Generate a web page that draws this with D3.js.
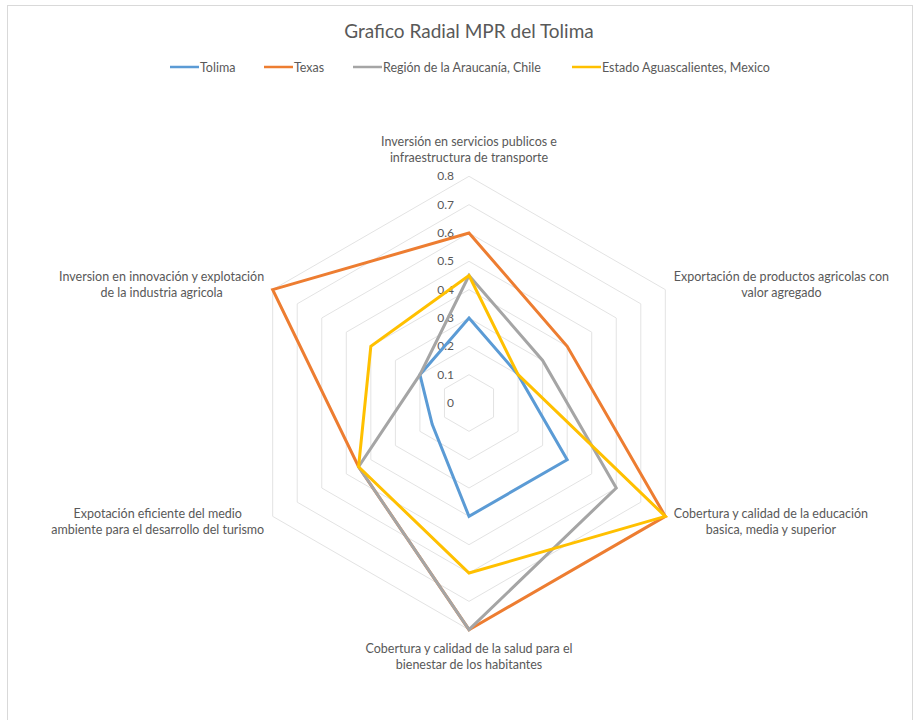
<!DOCTYPE html>
<html>
<head>
<meta charset="utf-8">
<script src="https://cdn.jsdelivr.net/npm/d3@7.9.0/dist/d3.min.js"></script>
<style>
  body { margin: 0; background: #fff; }
  svg text { font-family: Lato, "Open Sans", sans-serif; fill: #595959; }
</style>
</head>
<body>
<svg id="chart" width="917" height="720"></svg>
<script>
// axes of the radar, clockwise from the top
const categories = [
  ['Inversión en servicios publicos e', 'infraestructura de transporte'],
  ['Exportación de productos agricolas con', 'valor agregado'],
  ['Cobertura y calidad de la educación', 'basica, media y superior'],
  ['Cobertura y calidad de la salud para el', 'bienestar de los habitantes'],
  ['Expotación eficiente del medio', 'ambiente para el desarrollo del turismo'],
  ['Inversion en innovación y explotación', 'de la industria agricola']
];
const seriesNames = ['Tolima', 'Texas', 'Región de la Araucanía, Chile', 'Estado Aguascalientes, Mexico'];
const tolima = [0.3, 0.2, 0.4, 0.4, 0.15, 0.2];
const texas = [0.6, 0.4, 0.8, 0.8, 0.45, 0.8];
const araucania = [0.45, 0.3, 0.6, 0.8, 0.45, 0.2];
const aguascalientes = [0.45, 0.2, 0.8, 0.6, 0.45, 0.4];
const ticks = [0, 0.1, 0.2, 0.3, 0.4, 0.5, 0.6, 0.7, 0.8];
const colors = ['#5B9BD5', '#ED7D31', '#A5A5A5', '#FFC000'];

const allSeries = [tolima, texas, araucania, aguascalientes];

const svg = d3.select('#chart');
const cx = 469, cy = 403;

// chart frame
svg.append('rect')
  .attr('x', 7.5).attr('y', 5.5)
  .attr('width', 905).attr('height', 740)
  .attr('fill', 'none')
  .attr('stroke', '#d9d9d9');

svg.append('text')
  .attr('x', cx).attr('y', 38)
  .attr('text-anchor', 'middle')
  .attr('font-size', '19px')
  .text('Grafico Radial MPR del Tolima');

// legend
let legend = svg.append('g').attr('class', 'legend');
const legendX = [170, 264, 353, 572];
seriesNames.forEach((name, i) => {
  let g = legend.append('g').attr('transform', `translate(${legendX[i]},67)`);
  g.append('line')
    .attr('x1', 0).attr('x2', 29)
    .attr('stroke', colors[i])
    .attr('stroke-width', 2.5);
  g.append('text')
    .attr('x', 30).attr('y', 4.5)
    .attr('font-size', '12.5px')
    .text(name);
});

const r = d3.scaleLinear().domain([0, 0.8]).range([0, 226.7]);
const angle = d3.scaleLinear().domain([0, categories.length]).range([0, 2 * Math.PI]);

const plot = svg.append('g').attr('transform', `translate(${cx},${cy})`);

// grid hexagons
const gridLine = d3.lineRadial()
  .angle((d, i) => angle(i))
  .radius(d => r(d))
  .curve(d3.curveLinearClosed);

plot.selectAll('path.grid')
  .data(ticks.slice(1))
  .join('path')
  .attr('class', 'grid')
  .attr('d', t => gridLine(categories.map(() => t)))
  .attr('fill', 'none')
  .attr('stroke', '#e3e3e3')
  .attr('stroke-width', 1);

// tick labels on the top axis
plot.selectAll('text.tick')
  .data(ticks)
  .join('text')
  .attr('class', 'tick')
  .attr('x', -15)
  .attr('y', t => -r(t) + 4)
  .attr('text-anchor', 'end')
  .attr('font-size', '12px')
  .text(t => t === 0 ? '0' : d3.format('.1f')(t));

// series
const seriesLine = d3.lineRadial()
  .angle((d, i) => angle(i))
  .radius(d => r(d))
  .curve(d3.curveLinearClosed);

allSeries.forEach((values, i) => {
  plot.append('path')
    .attr('d', seriesLine(values))
    .attr('fill', 'none')
    .attr('stroke', colors[i])
    .attr('stroke-width', 3)
    .attr('stroke-linejoin', 'miter');
});

// category labels
categories.forEach((lines, i) => {
  let a = angle(i);
  let vx = Math.sin(a) * r(0.8);
  let vy = -Math.cos(a) * r(0.8);
  let g = plot.append('g');
  let texts = lines.map((s, j) => g.append('text')
    .attr('font-size', '12.5px')
    .attr('text-anchor', 'middle')
    .text(s));
  let w = d3.max(texts, t => t.node().getComputedTextLength());
  let x, midY;
  if (Math.abs(Math.sin(a)) < 0.1) {
    x = vx;
    midY = vy + (Math.cos(a) > 0 ? -27 : 27);
  } else {
    x = Math.sin(a) > 0 ? vx + 8.5 + w / 2 : vx - 8.5 - w / 2;
    midY = vy + (Math.cos(a) > 0 ? -5 : 5);
  }
  texts.forEach((t, j) => {
    t.attr('x', x).attr('y', midY + (j - 0.5) * 16.3 + 4.5);
  });
});
</script>
</body>
</html>
